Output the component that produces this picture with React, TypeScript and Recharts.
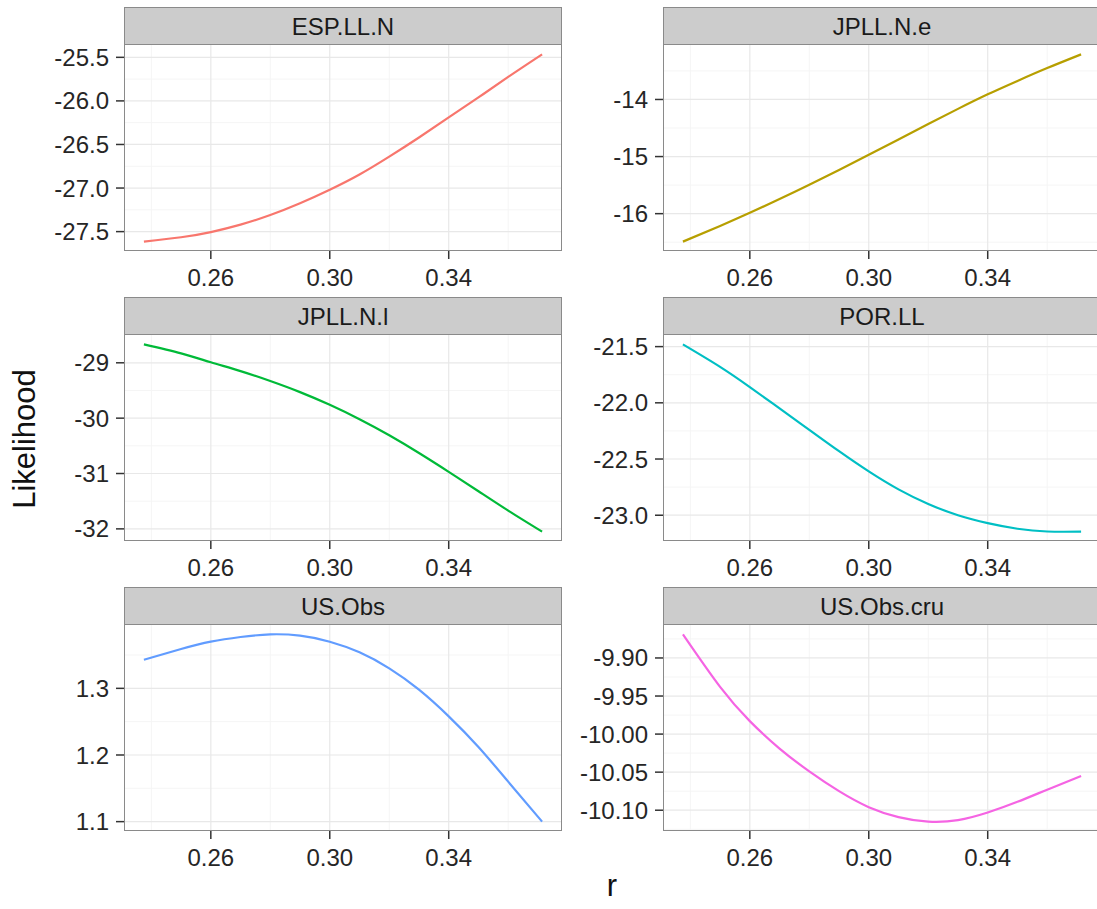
import React from "react";
import { LineChart, Line, XAxis, YAxis, CartesianGrid } from "recharts";

// ---- data ----
const rValues = [0.2375, 0.25, 0.26, 0.27, 0.28, 0.29, 0.3, 0.31, 0.32, 0.33, 0.34, 0.35, 0.36, 0.3714];
const espLLN = [-27.615, -27.565, -27.505, -27.42, -27.31, -27.175, -27.02, -26.845, -26.64, -26.42, -26.19, -25.96, -25.725, -25.466];
const jpllNe = [-16.49, -16.215, -15.985, -15.745, -15.495, -15.235, -14.97, -14.7, -14.43, -14.165, -13.91, -13.675, -13.45, -13.21];
const jpllNl = [-28.667, -28.83, -28.99, -29.15, -29.33, -29.53, -29.76, -30.02, -30.31, -30.63, -30.97, -31.32, -31.67, -32.05];
const porLL = [-21.48, -21.68, -21.86, -22.05, -22.24, -22.43, -22.61, -22.77, -22.9, -23.0, -23.07, -23.12, -23.145, -23.146];
const usObs = [1.343, 1.359, 1.37, 1.377, 1.381, 1.379, 1.37, 1.354, 1.33, 1.298, 1.258, 1.212, 1.16, 1.1];
const usObsCru = [-9.869, -9.938, -9.983, -10.019, -10.049, -10.075, -10.096, -10.109, -10.115, -10.113, -10.103, -10.089, -10.073, -10.055];

const panelNames = ["ESP.LL.N", "JPLL.N.e", "JPLL.N.l", "POR.LL", "US.Obs", "US.Obs.cru"];

const xTicks = [0.26, 0.3, 0.34];
const xMinor = [0.24, 0.28, 0.32, 0.36];

const yTicksEsp = [-27.5, -27.0, -26.5, -26.0, -25.5];
const yMinorEsp = [-27.25, -26.75, -26.25, -25.75];
const yTicksJpe = [-16, -15, -14];
const yMinorJpe = [-16.5, -15.5, -14.5, -13.5];
const yTicksJpl = [-32, -31, -30, -29];
const yMinorJpl = [-31.5, -30.5, -29.5];
const yTicksPor = [-23.0, -22.5, -22.0, -21.5];
const yMinorPor = [-22.75, -22.25, -21.75];
const yTicksUs = [1.1, 1.2, 1.3];
const yMinorUs = [1.15, 1.25, 1.35];
const yTicksCru = [-10.1, -10.05, -10.0, -9.95, -9.9];
const yMinorCru = [-10.125, -10.075, -10.025, -9.975, -9.925, -9.875];

const xAxisTitle = "r";
const yAxisTitle = "Likelihood";

// ---- styles / layout ----
const FONT = "'Liberation Sans', Arial, Helvetica, sans-serif";
const colors = ["#F8766D", "#B79F00", "#00BA38", "#00BFC4", "#619CFF", "#F564E3"];
const PANEL_W = 438;
const PANEL_H = 206;
const STRIP_H = 38;
const COL_LEFT = [124, 663];
const ROW_STRIP_TOP = [7, 297, 587];
const Y_AXIS_W = 124;
const X_AXIS_H = 50;
const TOP_PAD = 20;
const TICK_FONT = 24;
const TITLE_FONT = 31;

const panels = [
  { name: panelNames[0], values: espLLN, ticks: yTicksEsp, minor: yMinorEsp, dec: 1 },
  { name: panelNames[1], values: jpllNe, ticks: yTicksJpe, minor: yMinorJpe, dec: 0 },
  { name: panelNames[2], values: jpllNl, ticks: yTicksJpl, minor: yMinorJpl, dec: 0 },
  { name: panelNames[3], values: porLL, ticks: yTicksPor, minor: yMinorPor, dec: 1 },
  { name: panelNames[4], values: usObs, ticks: yTicksUs, minor: yMinorUs, dec: 1 },
  { name: panelNames[5], values: usObsCru, ticks: yTicksCru, minor: yMinorCru, dec: 2 },
];

const expand = (vals: number[]): [number, number] => {
  const mn = Math.min(...vals);
  const mx = Math.max(...vals);
  const pad = (mx - mn) * 0.05;
  return [mn - pad, mx + pad];
};

const xDomain = expand(rValues);

function Panel({ idx }: { idx: number }) {
  const p = panels[idx];
  const row = Math.floor(idx / 2);
  const col = idx % 2;
  const left = COL_LEFT[col];
  const stripTop = ROW_STRIP_TOP[row];
  const panelTop = stripTop + STRIP_H;
  const data = rValues.map((r, i) => ({ r, v: p.values[i] }));
  const yDomain = expand(p.values);
  const tickStyle = { fontSize: TICK_FONT, fill: "#262626", fontFamily: FONT };
  return (
    <>
      <div style={{ position: "absolute", left: left - Y_AXIS_W, top: panelTop - TOP_PAD }}>
        <LineChart
          width={Y_AXIS_W + PANEL_W}
          height={TOP_PAD + PANEL_H + X_AXIS_H}
          data={data}
          margin={{ top: TOP_PAD, right: 0, bottom: 0, left: 0 }}
        >
          <CartesianGrid
            verticalValues={xMinor}
            horizontalValues={p.minor}
            stroke="#F5F5F5"
            strokeWidth={1}
          />
          <CartesianGrid
            verticalValues={xTicks}
            horizontalValues={p.ticks}
            stroke="#E8E8E8"
            strokeWidth={1.2}
          />
          <XAxis
            dataKey="r"
            type="number"
            domain={xDomain}
            allowDataOverflow
            ticks={xTicks}
            tickFormatter={(v: number) => v.toFixed(2)}
            axisLine={false}
            tickLine={{ stroke: "#333", strokeWidth: 1.5 }}
            tickSize={8}
            tickMargin={10}
            height={X_AXIS_H}
            tick={tickStyle}
            interval={0}
          />
          <YAxis
            type="number"
            domain={yDomain}
            allowDataOverflow
            ticks={p.ticks}
            tickFormatter={(v: number) => v.toFixed(p.dec)}
            axisLine={false}
            tickLine={{ stroke: "#333", strokeWidth: 1.5 }}
            tickSize={8}
            tickMargin={7}
            width={Y_AXIS_W}
            tick={tickStyle}
            interval={0}
          />
          <Line
            type="natural"
            dataKey="v"
            stroke={colors[idx]}
            strokeWidth={2.2}
            dot={false}
            activeDot={false}
            isAnimationActive={false}
          />
        </LineChart>
      </div>
      <div
        style={{
          position: "absolute",
          left,
          top: stripTop,
          width: PANEL_W,
          height: STRIP_H,
          boxSizing: "border-box",
          background: "#CCCCCC",
          border: "1.5px solid #8a8a8a",
          display: "flex",
          alignItems: "center",
          justifyContent: "center",
          fontFamily: FONT,
          fontSize: TICK_FONT,
          color: "#1a1a1a",
          paddingTop: 2,
        }}
      >
        {p.name}
      </div>
      <div
        style={{
          position: "absolute",
          left,
          top: panelTop,
          width: PANEL_W,
          height: PANEL_H,
          boxSizing: "border-box",
          border: "1.5px solid #8a8a8a",
          borderTop: "none",
          pointerEvents: "none",
        }}
      />
    </>
  );
}

export default function App() {
  return (
    <div
      style={{
        position: "absolute",
        left: 0,
        top: 0,
        width: 1097,
        height: 909,
        overflow: "hidden",
        background: "#fff",
        fontFamily: FONT,
      }}
    >
      {panels.map((_, i) => (
        <Panel key={i} idx={i} />
      ))}
      <div
        style={{
          position: "absolute",
          left: 25,
          top: 439,
          transform: "translate(-50%, -50%) rotate(-90deg)",
          fontSize: TITLE_FONT,
          color: "#111",
          whiteSpace: "nowrap",
          fontFamily: FONT,
        }}
      >
        {yAxisTitle}
      </div>
      <div
        style={{
          position: "absolute",
          left: 612,
          top: 886,
          transform: "translate(-50%, -50%)",
          fontSize: TITLE_FONT,
          color: "#111",
          whiteSpace: "nowrap",
          fontFamily: FONT,
        }}
      >
        {xAxisTitle}
      </div>
    </div>
  );
}
